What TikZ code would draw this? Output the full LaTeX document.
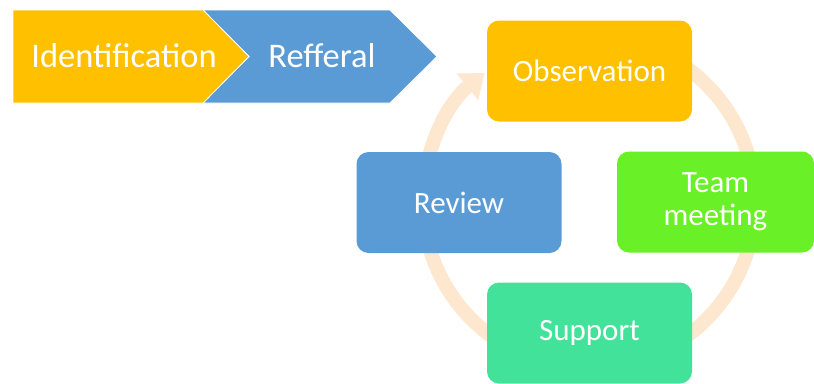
\documentclass[tikz,border=0pt]{standalone}
\usepackage{fontspec}
\setmainfont{Carlito}
\usetikzlibrary{arrows.meta,calc}
\definecolor{cyel}{HTML}{FFC000}
\definecolor{cblue}{HTML}{5B9BD5}
\definecolor{cgreen}{HTML}{6AF027}
\definecolor{cteal}{HTML}{43E29B}
\definecolor{cring}{HTML}{FDE7CF}
\tikzset{
  box/.style={fill=#1, rounded corners=12pt, minimum width=205pt, minimum height=101pt, text=white, font=\fontsize{31}{33}\selectfont, align=center, inner sep=0pt},
  chev/.style={fill=#1, draw=white, line width=0.8pt},
  chevtext/.style={text=white, font=\fontsize{34.5}{38}\selectfont, inner sep=0pt}
}
\begin{document}
\begin{tikzpicture}[x=1pt,y=-1pt]
\useasboundingbox (0,0) rectangle (814,383);
% ring
\coordinate (c) at (589,202);
\draw[cring, line width=14pt, -{Triangle[width=33pt,length=22pt]}] ($(c)+(-60:166)$) arc[start angle=-60, end angle=231, radius=166];
% chevrons
\draw[chev=cblue] (203,10) -- (390,10) -- (437,56.5) -- (390,103) -- (203,103) -- (249,56.5) -- cycle;
\draw[chev=cyel] (13,10) -- (203,10) -- (249,56.5) -- (203,103) -- (13,103) -- cycle;
\node[chevtext] (ident) at (124,56) {Identification};
\node[chevtext] (ref) at (322,56) {Refferal};
% boxes
\node[box=cyel] (obs) at (589.5,71) {Observation};
\node[box=cgreen, minimum width=197pt] (team) at (715.5,202) {Team\\meeting};
\node[box=cteal] (sup) at (589.5,333) {Support};
\node[box=cblue] (rev) at (459,202.5) {Review};
\end{tikzpicture}
\end{document}
